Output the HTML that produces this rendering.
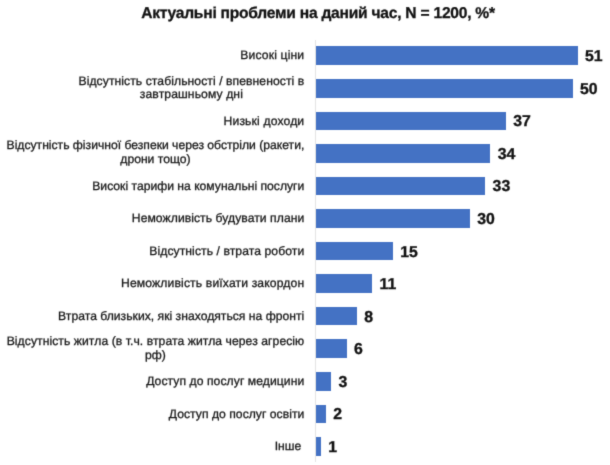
<!DOCTYPE html>
<html lang="uk"><head><meta charset="utf-8"><title>Актуальні проблеми</title>
<style>
html,body{margin:0;padding:0;background:#fff;}
body{text-rendering:geometricPrecision;width:610px;height:465px;position:relative;overflow:hidden;font-family:"Liberation Sans",sans-serif;}
.chart{position:absolute;left:0;top:0;width:610px;height:465px;background:#fff;overflow:hidden;filter:url(#soft);}
.title{position:absolute;left:0;top:5px;width:636px;text-align:center;font-weight:bold;font-size:15.6px;letter-spacing:-0.24px;line-height:18px;color:#111;-webkit-text-stroke:0.3px #111;white-space:nowrap;}
.axis{position:absolute;left:315px;top:40px;width:1px;height:422px;background:#e4e4e4;}
.bar{position:absolute;left:315.8px;height:18.6px;background:#4472c4;}
.lab{position:absolute;right:305.7px;text-align:center;font-size:12.15px;letter-spacing:0px;line-height:14.3px;color:#181818;-webkit-text-stroke:0.3px #181818;white-space:nowrap;transform:translateY(-50%);}
.val{position:absolute;font-weight:bold;font-size:15.8px;line-height:18px;color:#111;-webkit-text-stroke:0.35px #111;transform:translateY(-50%);}
</style></head><body>
<svg width="0" height="0" style="position:absolute"><defs><filter id="soft" x="0" y="0" width="100%" height="100%" color-interpolation-filters="sRGB"><feConvolveMatrix order="3" kernelMatrix="0.02 0.09 0.02 0.09 0.56 0.09 0.02 0.09 0.02" divisor="1" edgeMode="duplicate" preserveAlpha="true"/></filter></defs></svg>
<div class="chart">
<div class="title">Актуальні проблеми на даний час, N = 1200, %*</div>
<div class="axis"></div>

<div class="bar" style="top:46.40px;width:261.99px"></div>
<div class="lab" style="top:55.40px"><span style="letter-spacing:0.16px">Високі ціни</span></div>
<div class="val" style="top:57.20px;left:585.09px">51</div>
<div class="bar" style="top:78.96px;width:256.85px"></div>
<div class="lab" style="top:87.76px;line-height:13px"><span style="letter-spacing:0.075px">Відсутність стабільності / впевненості в</span><br><span style="letter-spacing:0.1px">завтрашньому дні</span></div>
<div class="val" style="top:89.76px;left:579.95px">50</div>
<div class="bar" style="top:111.52px;width:190.07px"></div>
<div class="lab" style="top:120.52px"><span style="letter-spacing:0.15px">Низькі доходи</span></div>
<div class="val" style="top:122.32px;left:513.17px">37</div>
<div class="bar" style="top:144.08px;width:174.66px"></div>
<div class="lab" style="top:151.88px;line-height:14px">Відсутність фізичної безпеки через обстріли (ракети,<br>дрони тощо)</div>
<div class="val" style="top:154.88px;left:497.76px">34</div>
<div class="bar" style="top:176.64px;width:169.52px"></div>
<div class="lab" style="top:185.64px">Високі тарифи на комунальні послуги</div>
<div class="val" style="top:187.44px;left:492.62px">33</div>
<div class="bar" style="top:209.20px;width:154.11px"></div>
<div class="lab" style="top:218.20px"><span style="letter-spacing:0.06px">Неможливість будувати плани</span></div>
<div class="val" style="top:220.00px;left:477.21px">30</div>
<div class="bar" style="top:241.76px;width:77.05px"></div>
<div class="lab" style="top:250.76px"><span style="letter-spacing:0.08px">Відсутність / втрата роботи</span></div>
<div class="val" style="top:252.56px;left:400.16px">15</div>
<div class="bar" style="top:274.32px;width:56.51px"></div>
<div class="lab" style="top:283.32px"><span style="letter-spacing:0.14px">Неможливість виїхати закордон</span></div>
<div class="val" style="top:285.12px;left:379.61px">11</div>
<div class="bar" style="top:306.88px;width:41.10px"></div>
<div class="lab" style="top:315.88px"><span style="letter-spacing:0.02px">Втрата близьких, які знаходяться на фронті</span></div>
<div class="val" style="top:317.68px;left:364.20px">8</div>
<div class="bar" style="top:339.44px;width:30.82px"></div>
<div class="lab" style="top:348.44px;line-height:14px"><span style="letter-spacing:0.07px">Відсутність житла (в т.ч. втрата житла через агресію</span><br>рф)</div>
<div class="val" style="top:350.24px;left:353.92px">6</div>
<div class="bar" style="top:372.00px;width:15.41px"></div>
<div class="lab" style="top:381.00px"><span style="letter-spacing:0.07px">Доступ до послуг медицини</span></div>
<div class="val" style="top:382.80px;left:338.51px">3</div>
<div class="bar" style="top:404.56px;width:10.27px"></div>
<div class="lab" style="top:413.56px"><span style="letter-spacing:0.03px">Доступ до послуг освіти</span></div>
<div class="val" style="top:415.36px;left:333.37px">2</div>
<div class="bar" style="top:437.12px;width:5.14px"></div>
<div class="lab" style="top:446.12px;right:308.6px"><span style="letter-spacing:0.05px">Інше</span></div>
<div class="val" style="top:447.92px;left:328.24px">1</div>
</div>
</body></html>
